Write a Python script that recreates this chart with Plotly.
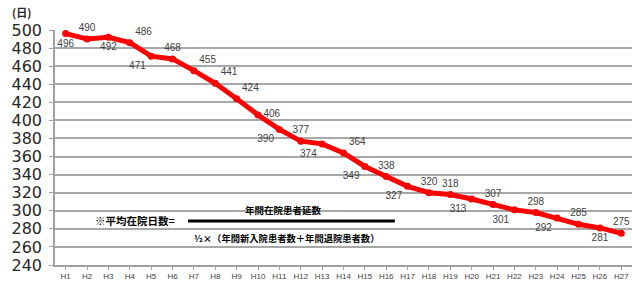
import plotly.graph_objects as go

years = ["H%d" % i for i in range(1, 28)]
days = [496, 490, 492, 486, 471, 468, 455, 441, 424, 406, 390, 377, 374, 364,
        349, 338, 327, 320, 318, 313, 307, 301, 298, 292, 285, 281, 275]
label_pos = ["bottom center", "top center", "bottom center", "top right", "bottom left",
             "top center", "top right", "top right", "top right", "middle right",
             "bottom left", "top center", "bottom left", "top right", "bottom left",
             "top center", "bottom left", "top center", "top center", "bottom left",
             "top center", "bottom left", "top center", "bottom left", "top center",
             "bottom center", "top center"]
y_ticks = list(range(240, 501, 20))

fig = go.Figure()
fig.add_trace(go.Scatter(
    x=years, y=days, mode="lines+markers+text",
    line=dict(color="#ff0000", width=5),
    marker=dict(color="#ff0000", size=7),
    text=[str(v) for v in days], textposition=label_pos,
    textfont=dict(family="Liberation Sans", size=10, color="#404040"),
    cliponaxis=False, showlegend=False,
))

fig.update_layout(
    width=632, height=284,
    margin=dict(l=55, r=0, t=30, b=19, autoexpand=False),
    plot_bgcolor="white", paper_bgcolor="white",
    xaxis=dict(
        type="category", showgrid=False, automargin=False, range=[-0.5, 26.5],
        showline=True, linecolor="#a0a0a0", linewidth=1.5,
        ticks="outside", ticklen=3, tickcolor="#a0a0a0",
        tickfont=dict(family="Liberation Sans", size=8, color="#404040"),
    ),
    yaxis=dict(
        range=[240, 500], tickvals=y_ticks, automargin=False,
        showgrid=True, gridcolor="#a8a8a8", gridwidth=1.5,
        showline=True, linecolor="#a0a0a0", linewidth=1.5,
        ticks="outside", ticklen=4, tickcolor="#a0a0a0", ticklabelstandoff=4,
        tickfont=dict(family="DejaVu Sans", size=16, color="#262626"),
        zeroline=False,
    ),
    font=dict(family="Noto Sans CJK JP"),
)

fig.add_annotation(text="<b>(日)</b>", xref="paper", yref="paper", x=-0.078, y=1.0766,
                   xanchor="left", yanchor="middle", showarrow=False,
                   font=dict(family="Noto Sans CJK JP", size=11, color="#262626"))
fig.add_annotation(text="<b>※平均在院日数=</b>", xref="paper", yref="paper", x=0.066, y=0.191,
                   xanchor="left", yanchor="middle", showarrow=False,
                   font=dict(family="Noto Sans CJK JP", size=10.5, color="#000000"))
fig.add_annotation(text="<b>年間在院患者延数</b>", xref="paper", yref="paper", x=0.396, y=0.236,
                   xanchor="center", yanchor="middle", showarrow=False,
                   font=dict(family="Noto Sans CJK JP", size=9.5, color="#000000"))
fig.add_annotation(text="<b>½×（年間新入院患者数＋年間退院患者数）</b>", xref="paper", yref="paper",
                   x=0.2375, y=0.115, xanchor="left", yanchor="middle", showarrow=False,
                   font=dict(family="Noto Sans CJK JP", size=9.3, color="#000000"))
fig.add_shape(type="line", xref="paper", yref="paper", x0=0.2305, x1=0.589, y0=0.187, y1=0.187,
              line=dict(color="#000000", width=3))

fig.write_html("out.html", config={"displayModeBar": False},
               post_script="document.body.style.margin='0';document.body.style.overflow='hidden';")
